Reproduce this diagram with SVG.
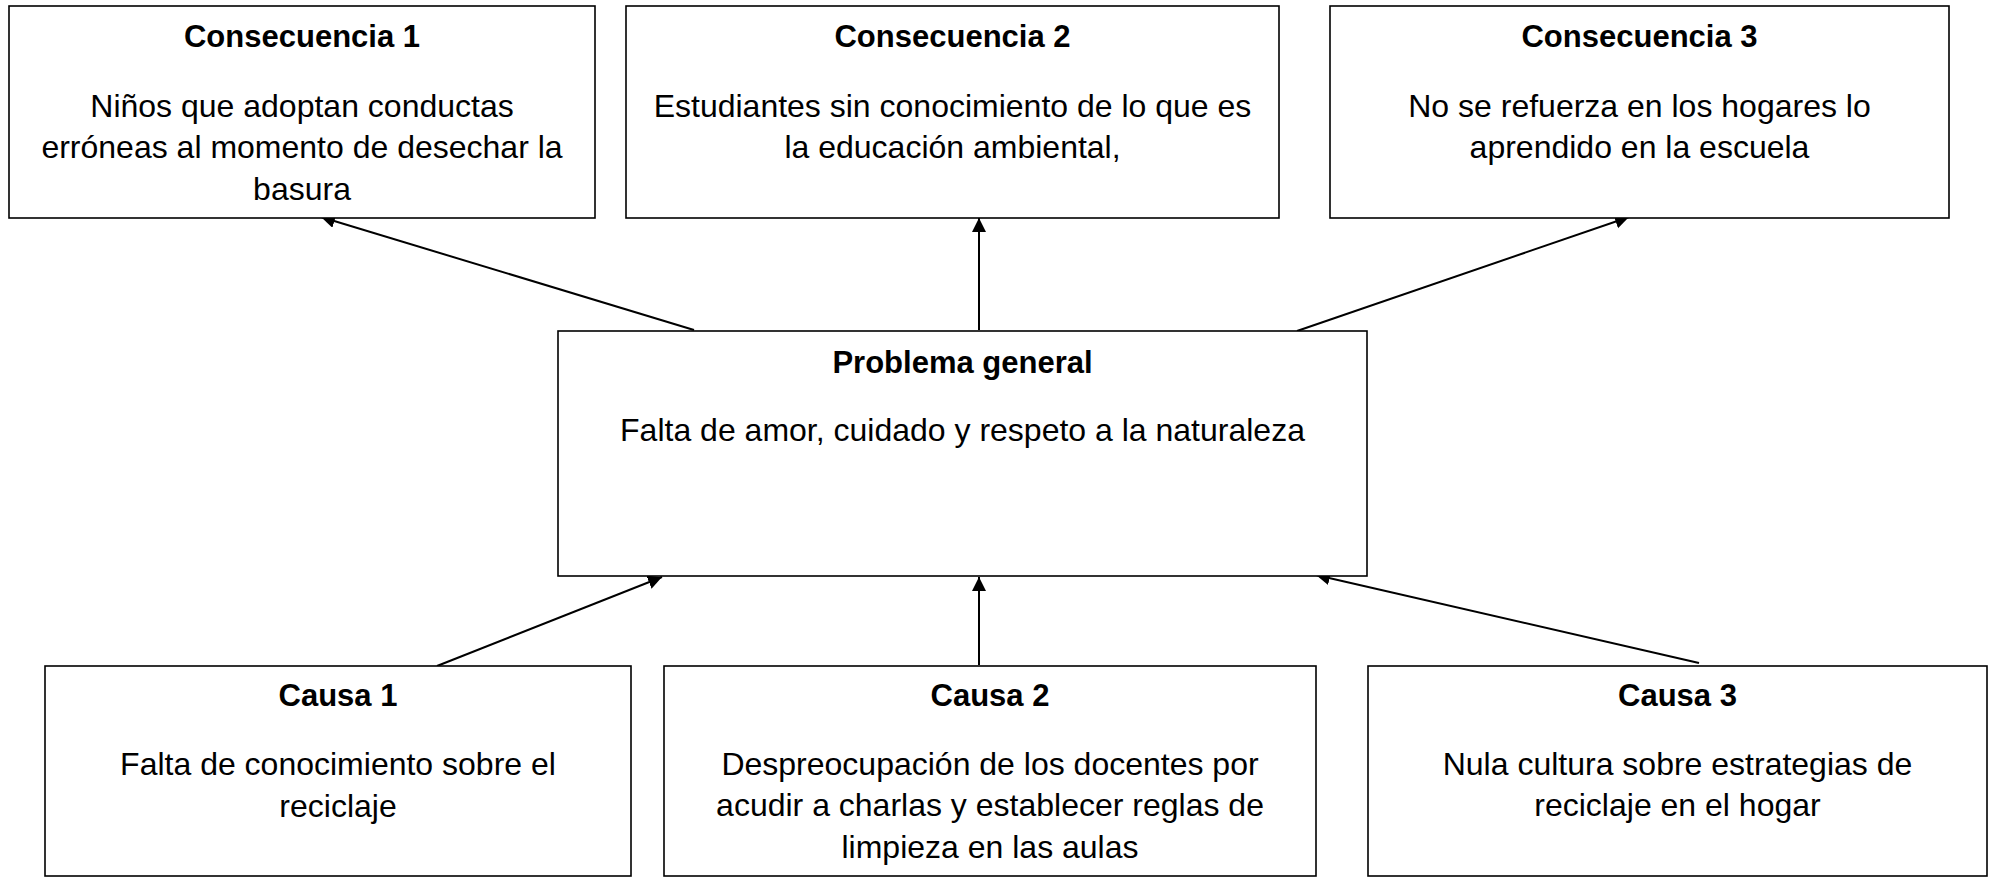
<svg xmlns="http://www.w3.org/2000/svg" width="1992" height="877" viewBox="0 0 1992 877">
<style>
.box{fill:#fff;stroke:#000;stroke-width:1.6}
.t{font-family:"Liberation Sans",Arial,sans-serif;font-weight:bold;font-size:31px;fill:#000;text-anchor:middle}
.b{font-family:"Liberation Sans",Arial,sans-serif;font-size:32px;fill:#000;text-anchor:middle}
.c{stroke:#000;stroke-width:2;fill:none;marker-end:url(#ah)}
</style>
<defs>
<marker id="ah" markerUnits="userSpaceOnUse" markerWidth="16" markerHeight="15" refX="14" refY="7" orient="auto">
<path d="M0,0 L14,7 L0,14 z" fill="#000"/>
</marker>
</defs>
<rect width="1992" height="877" fill="#fff"/>
<g id="connectors">
<line class="c" x1="694" y1="330" x2="321" y2="217"/>
<line class="c" x1="979" y1="330" x2="979" y2="218"/>
<line class="c" x1="1297" y1="331" x2="1629" y2="217"/>
<line class="c" x1="437" y1="666" x2="662" y2="577"/>
<line class="c" x1="979" y1="665" x2="979" y2="577"/>
<line class="c" x1="1699" y1="663" x2="1316" y2="575"/>
</g>
<g id="consecuencia1">
<rect class="box" x="9" y="6" width="586" height="212"/>
<text class="t" x="302" y="47">Consecuencia 1</text>
<text class="b" x="302" y="117">Niños que adoptan conductas</text>
<text class="b" x="302" y="158">erróneas al momento de desechar la</text>
<text class="b" x="302" y="200">basura</text>
</g>
<g id="consecuencia2">
<rect class="box" x="626" y="6" width="653" height="212"/>
<text class="t" x="952.5" y="47">Consecuencia 2</text>
<text class="b" x="952.5" y="117">Estudiantes sin conocimiento de lo que es</text>
<text class="b" x="952.5" y="158">la educación ambiental,</text>
</g>
<g id="consecuencia3">
<rect class="box" x="1330" y="6" width="619" height="212"/>
<text class="t" x="1639.5" y="47">Consecuencia 3</text>
<text class="b" x="1639.5" y="117">No se refuerza en los hogares lo</text>
<text class="b" x="1639.5" y="158">aprendido en la escuela</text>
</g>
<g id="problema">
<rect class="box" x="558" y="331" width="809" height="245"/>
<text class="t" x="962.5" y="372.5">Problema general</text>
<text class="b" x="962.5" y="441">Falta de amor, cuidado y respeto a la naturaleza</text>
</g>
<g id="causa1">
<rect class="box" x="45" y="666" width="586" height="210"/>
<text class="t" x="338" y="706">Causa 1</text>
<text class="b" x="338" y="775">Falta de conocimiento sobre el</text>
<text class="b" x="338" y="816.5">reciclaje</text>
</g>
<g id="causa2">
<rect class="box" x="664" y="666" width="652" height="210"/>
<text class="t" x="990" y="706">Causa 2</text>
<text class="b" x="990" y="775">Despreocupación de los docentes por</text>
<text class="b" x="990" y="816">acudir a charlas y establecer reglas de</text>
<text class="b" x="990" y="858">limpieza en las aulas</text>
</g>
<g id="causa3">
<rect class="box" x="1368" y="666" width="619" height="210"/>
<text class="t" x="1677.5" y="706">Causa 3</text>
<text class="b" x="1677.5" y="775">Nula cultura sobre estrategias de</text>
<text class="b" x="1677.5" y="816">reciclaje en el hogar</text>
</g>
</svg>
